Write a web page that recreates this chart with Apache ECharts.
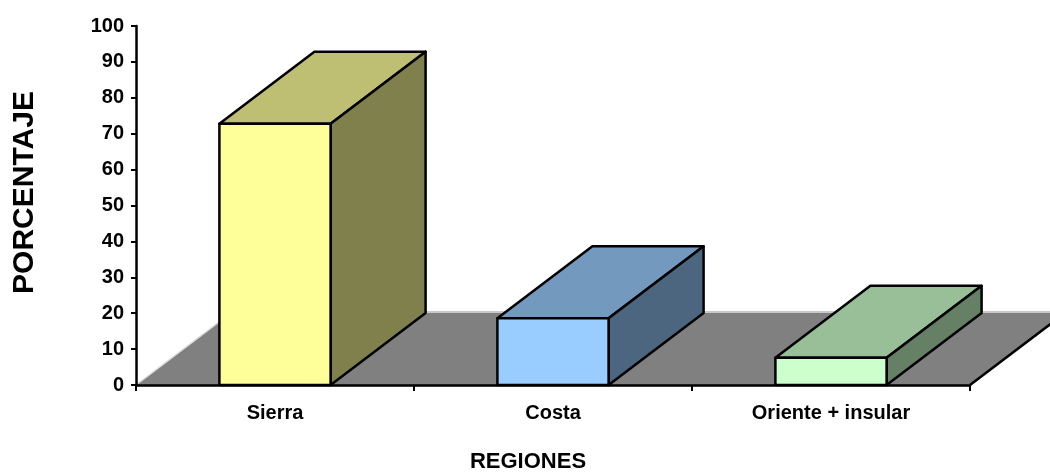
<!DOCTYPE html>
<html>
<head>
<meta charset="utf-8">
<script src="https://cdn.jsdelivr.net/npm/echarts@6/dist/echarts.min.js"></script>
<style>
  html, body { margin: 0; padding: 0; background: #ffffff; overflow: hidden; }
  #chart { width: 1050px; height: 472px; }
</style>
</head>
<body>
<div id="chart"></div>
<script>
// Distribución porcentual por región
const regiones = ['Sierra', 'Costa', 'Oriente + insular'];
const porcentajes = [72.8, 18.6, 7.6];
const yTicks = [0, 10, 20, 30, 40, 50, 60, 70, 80, 90, 100];

// Cara frontal, superior y lateral de cada columna
const frontColors = ['#FFFF99', '#99CCFF', '#CCFFCC'];
const topColors = ['#BFBF73', '#7399BF', '#99BF99'];
const sideColors = ['#80804D', '#4D6680', '#668066'];

// Desplazamiento de profundidad (perspectiva oblicua)
const DX = 95, DY = -72;
const BAR_RATIO = 0.4;

const chart = echarts.init(document.getElementById('chart'), null, { renderer: 'canvas' });
const font = 'Liberation Sans, Arial, sans-serif';

function renderFloor(params, api) {
  const band = api.size([1, 0])[0];
  const first = api.coord([0, 0]);
  const last = api.coord([regiones.length - 1, 0]);
  const x0 = first[0] - band / 2;
  const x1 = last[0] + band / 2;
  const y0 = first[1];
  return {
    type: 'group',
    children: [
      {
        type: 'polygon',
        shape: { points: [[x0, y0], [x1, y0], [x1 + DX, y0 + DY], [x0 + DX, y0 + DY]] },
        style: { fill: '#808080', stroke: null }
      },
      {
        type: 'line',
        shape: { x1: x0, y1: y0, x2: x0 + DX, y2: y0 + DY },
        style: { stroke: '#d9d9d9', lineWidth: 1.5 }
      },
      {
        type: 'line',
        shape: { x1: x0 + DX, y1: y0 + DY - 1, x2: x1 + DX + 20, y2: y0 + DY - 1 },
        style: { stroke: '#c8c8c8', lineWidth: 2 }
      },
      {
        type: 'line',
        shape: { x1: x1, y1: y0, x2: x1 + DX, y2: y0 + DY },
        style: { stroke: '#000000', lineWidth: 2.5 }
      }
    ]
  };
}

function renderBar(params, api) {
  const idx = api.value(0);
  const band = api.size([1, 0])[0];
  const w = band * BAR_RATIO;
  const top = api.coord([idx, api.value(1)]);
  const base = api.coord([idx, 0]);
  const xl = top[0] - w / 2;
  const xr = top[0] + w / 2;
  const yt = top[1];
  const yb = base[1];
  const edge = { stroke: '#000000', lineWidth: 2.5, lineJoin: 'round' };
  return {
    type: 'group',
    children: [
      {
        type: 'polygon',
        shape: { points: [[xl, yt], [xr, yt], [xr + DX, yt + DY], [xl + DX, yt + DY]] },
        style: Object.assign({ fill: topColors[idx] }, edge)
      },
      {
        type: 'polygon',
        shape: { points: [[xr, yt], [xr + DX, yt + DY], [xr + DX, yb + DY], [xr, yb]] },
        style: Object.assign({ fill: sideColors[idx] }, edge)
      },
      {
        type: 'rect',
        shape: { x: xl, y: yt, width: w, height: yb - yt },
        style: Object.assign({ fill: frontColors[idx] }, edge)
      }
    ]
  };
}

const option = {
  backgroundColor: '#ffffff',
  animation: false,
  grid: { left: 136, right: 80, top: 26, bottom: 87, containLabel: false, outerBoundsMode: 'none' },
  xAxis: {
    type: 'category',
    data: regiones,
    boundaryGap: true,
    z: 10,
    name: 'REGIONES',
    nameLocation: 'middle',
    nameGap: 66,
    nameTextStyle: { fontFamily: font, fontWeight: 'bold', fontSize: 22, color: '#000', padding: [0, 50, 0, 0] },
    axisLine: { show: true, lineStyle: { color: '#000', width: 2.5 } },
    axisTick: { show: true, length: 6, lineStyle: { color: '#000', width: 2 } },
    axisLabel: { fontFamily: font, fontWeight: 'bold', fontSize: 20, color: '#000', margin: 18 },
    splitLine: { show: false }
  },
  yAxis: {
    type: 'value',
    min: yTicks[0],
    max: yTicks[yTicks.length - 1],
    interval: yTicks[1] - yTicks[0],
    z: 10,
    name: 'PORCENTAJE',
    nameLocation: 'middle',
    nameRotate: 90,
    nameGap: 96,
    nameTextStyle: { fontFamily: font, fontWeight: 'bold', fontSize: 30, color: '#000', padding: [0, 0, 0, 26] },
    axisLine: { show: true, lineStyle: { color: '#000', width: 2.5 } },
    axisTick: { show: true, length: 5, lineStyle: { color: '#000', width: 2 } },
    axisLabel: { fontFamily: font, fontWeight: 'bold', fontSize: 20, color: '#000', margin: 12 },
    splitLine: { show: false }
  },
  series: [
    {
      type: 'custom',
      name: 'piso',
      clip: false,
      z: 1,
      silent: true,
      renderItem: renderFloor,
      data: [[0, 0]]
    },
    {
      type: 'custom',
      name: 'Porcentaje',
      clip: false,
      z: 2,
      renderItem: renderBar,
      encode: { x: 0, y: 1 },
      data: porcentajes.map((v, i) => [i, v])
    }
  ]
};

chart.setOption(option);
</script>
</body>
</html>
